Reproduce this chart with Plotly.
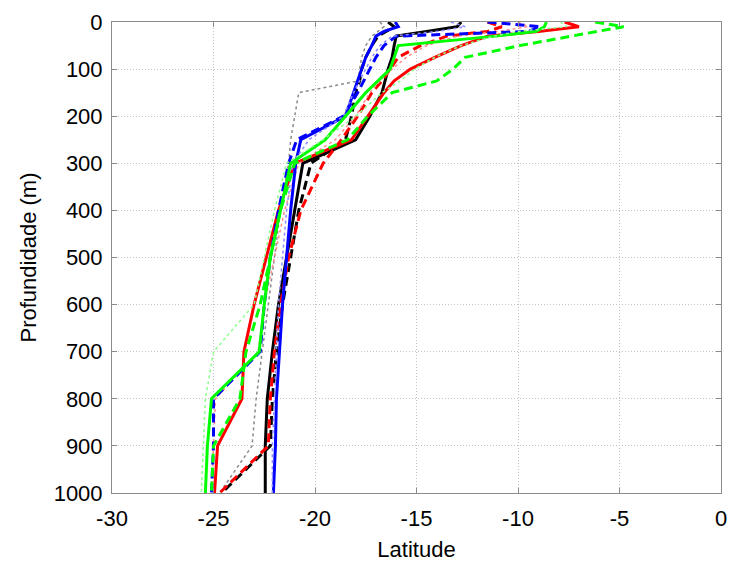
import plotly.graph_objects as go

depth = [0, 10, 20, 30, 50, 75, 100, 125, 150, 200, 250, 300, 400, 500, 600, 700, 800, 900, 1000]

black_solid  = [-12.8, -13.0, -14.5, -16.0, -16.1, -16.2, -16.4, -16.55, -16.7, -17.3, -18.0, -20.6, -21.0, -21.4, -21.8, -22.1, -22.35, -22.45, -22.45]
black_dashed = [-16.4, -16.1, -16.5, -16.9, -17.2, -17.5, -17.7, -17.8, -18.0, -18.2, -18.5, -20.2, -20.8, -21.2, -21.6, -21.9, -22.1, -22.2, -24.6]
black_dotted = [-16.8, -16.6, -16.9, -17.2, -17.5, -17.7, -17.8, -17.85, -20.8, -21.0, -21.2, -21.3, -21.7, -22.0, -22.3, -22.6, -22.9, -23.1, -24.7]

red_solid  = [-7.7, -7.0, -9.0, -11.5, -12.8, -14.1, -15.3, -16.1, -16.6, -17.4, -18.2, -21.0, -21.8, -22.4, -23.0, -23.5, -23.6, -24.8, -24.95]
red_dashed = [-11.5, -10.8, -11.5, -13.5, -14.8, -15.9, -16.3, -16.7, -17.2, -17.9, -18.7, -19.6, -20.7, -21.3, -21.7, -22.0, -22.2, -22.3, -24.7]
red_dotted = [-10.0, -9.5, -11.0, -13.0, -14.5, -15.5, -16.2, -16.8, -17.3, -18.0, -19.0, -20.8, -21.5, -22.0, -22.5, -22.8, -24.9, -25.0, -25.1]

blue_solid  = [-16.05, -15.9, -16.6, -17.0, -17.2, -17.5, -17.7, -17.9, -18.1, -18.5, -20.7, -20.95, -21.2, -21.4, -21.6, -21.75, -21.9, -21.95, -22.05]
blue_dashed = [-11.5, -8.9, -9.5, -16.0, -16.6, -17.0, -17.3, -17.6, -17.9, -18.6, -20.9, -21.3, -21.8, -22.2, -22.5, -22.7, -25.0, -25.0, -25.1]
blue_dotted = [-13.3, -12.6, -14.0, -16.2, -16.8, -17.2, -17.5, -17.8, -18.1, -18.6, -20.3, -21.1, -21.4, -21.6, -21.8, -21.9, -22.0, -22.1, -22.1]

green_solid  = [-8.6, -8.7, -9.1, -11.1, -15.9, -16.1, -16.3, -16.9, -17.5, -18.5, -19.5, -21.2, -21.7, -22.2, -22.5, -22.75, -25.1, -25.3, -25.4]
green_dashed = [-6.2, -4.8, -6.1, -7.4, -9.9, -12.6, -13.2, -14.0, -16.2, -17.4, -18.4, -21.0, -21.7, -22.2, -22.7, -23.4, -23.7, -25.0, -25.1]
green_dotted = [-7.9, -7.6, -10.0, -11.2, -12.8, -14.1, -15.1, -15.8, -16.7, -18.0, -19.6, -21.4, -22.0, -22.5, -23.0, -25.0, -25.4, -25.5, -25.6]

x_ticks = [-30, -25, -20, -15, -10, -5, 0]
y_ticks = [0, 100, 200, 300, 400, 500, 600, 700, 800, 900, 1000]

series = [
    (black_solid, "#000000", "solid", 3),
    (black_dashed, "#000000", "9px,5px", 3),
    (black_dotted, "#8a8a8a", "dot", 1.5),
    (red_solid, "#ff0000", "solid", 3),
    (red_dashed, "#ff0000", "9px,5px", 3),
    (red_dotted, "#ff8c8c", "dot", 1.5),
    (blue_solid, "#0000ff", "solid", 3),
    (blue_dashed, "#0000ff", "9px,5px", 3),
    (blue_dotted, "#8c8cff", "dot", 1.5),
    (green_solid, "#00ff00", "solid", 3),
    (green_dashed, "#00ff00", "9px,5px", 3),
    (green_dotted, "#8cff8c", "dot", 1.5),
]

fig = go.Figure()
for lat, color, dash, w in series:
    fig.add_trace(go.Scatter(x=lat, y=depth, mode="lines",
                             line=dict(color=color, dash=dash, width=w),
                             showlegend=False, hoverinfo="skip"))

font_family = "Liberation Sans, Arial, sans-serif"
axis_common = dict(
    showline=True, linecolor="#8c8c8c", linewidth=1, mirror="ticks",
    ticks="inside", ticklen=5, tickcolor="#8c8c8c",
    showgrid=True, gridcolor="#c4c4c4", griddash="1px,2px", gridwidth=1,
    zeroline=False,
    tickfont=dict(family=font_family, size=22, color="#000"),
)

fig.update_layout(
    width=734, height=565,
    margin=dict(l=112, r=7, t=22, b=71),
    paper_bgcolor="white", plot_bgcolor="white",
    font=dict(family=font_family, color="#000"),
    xaxis=dict(range=[-30, 0], tickvals=x_ticks, ticktext=[str(v) for v in x_ticks],
               ticklabelstandoff=6,
               title=dict(text="Latitude", font=dict(size=22), standoff=11),
               **axis_common),
    yaxis=dict(range=[1000, 0], tickvals=y_ticks, ticktext=[str(v) for v in y_ticks],
               ticklabelstandoff=4,
               title=dict(text="Profundidade (m)", font=dict(size=22), standoff=10),
               **axis_common),
)

fig.write_html("out.html")
